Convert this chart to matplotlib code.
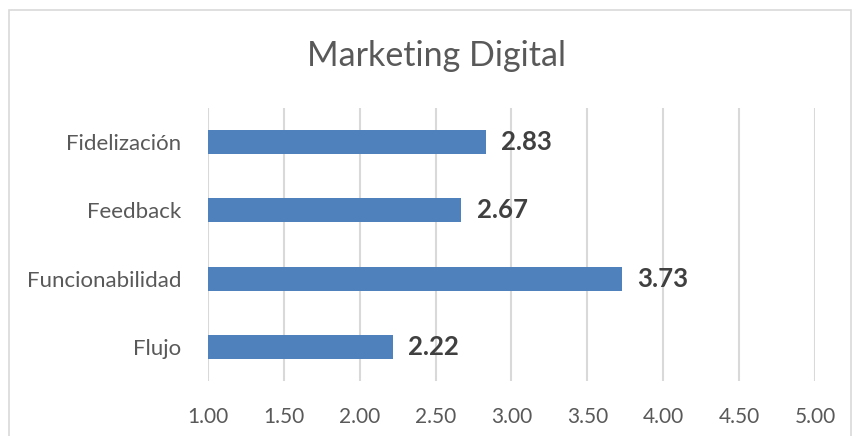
import matplotlib.pyplot as plt
from matplotlib.patches import Rectangle

# data
categories = ['Flujo', 'Funcionabilidad', 'Feedback', 'Fidelización']
values = [2.22, 3.73, 2.67, 2.83]
xticks = [1.0, 1.5, 2.0, 2.5, 3.0, 3.5, 4.0, 4.5, 5.0]

plt.rcParams['font.family'] = ['Lato', 'DejaVu Sans']

fig = plt.figure(figsize=(8.53, 4.36), dpi=100)
ax = fig.add_axes([208/853, 1 - 381/436, (815 - 208)/853, (381 - 108)/436])

# chart border
fig.patches.append(Rectangle((9/853, -0.1), (851 - 9)/853, 1.1 - 10/436,
                             transform=fig.transFigure, fill=False,
                             edgecolor='#D9D9D9', linewidth=1.2))

pos = range(len(categories))
bars = ax.barh(pos, [v - 1 for v in values], left=1, height=0.35,
               color='#4F81BD', zorder=3)
for p, v in zip(pos, values):
    ax.text(v + 0.1, p, '%.2f' % v, va='center', ha='left',
            fontsize=18.5, fontweight='bold', color='#404040')

ax.set_xlim(1, 5)
ax.set_ylim(-0.5, 3.5)
ax.set_xticks(xticks)
ax.set_xticklabels(['%.2f' % t for t in xticks])
ax.set_yticks(list(pos))
ax.set_yticklabels(categories)
ax.tick_params(axis='x', length=0, labelsize=15, colors='#595959', pad=19)
ax.tick_params(axis='y', length=0, labelsize=16, colors='#595959', pad=19)
ax.grid(axis='x', color='#D9D9D9', linewidth=1.5, zorder=0)
for s in ax.spines.values():
    s.set_visible(False)

fig.text(437/853, 1 - 56/436, 'Marketing Digital', ha='center', va='center',
         fontsize=24.5, color='#595959')

fig.savefig('out.png', dpi=100)
